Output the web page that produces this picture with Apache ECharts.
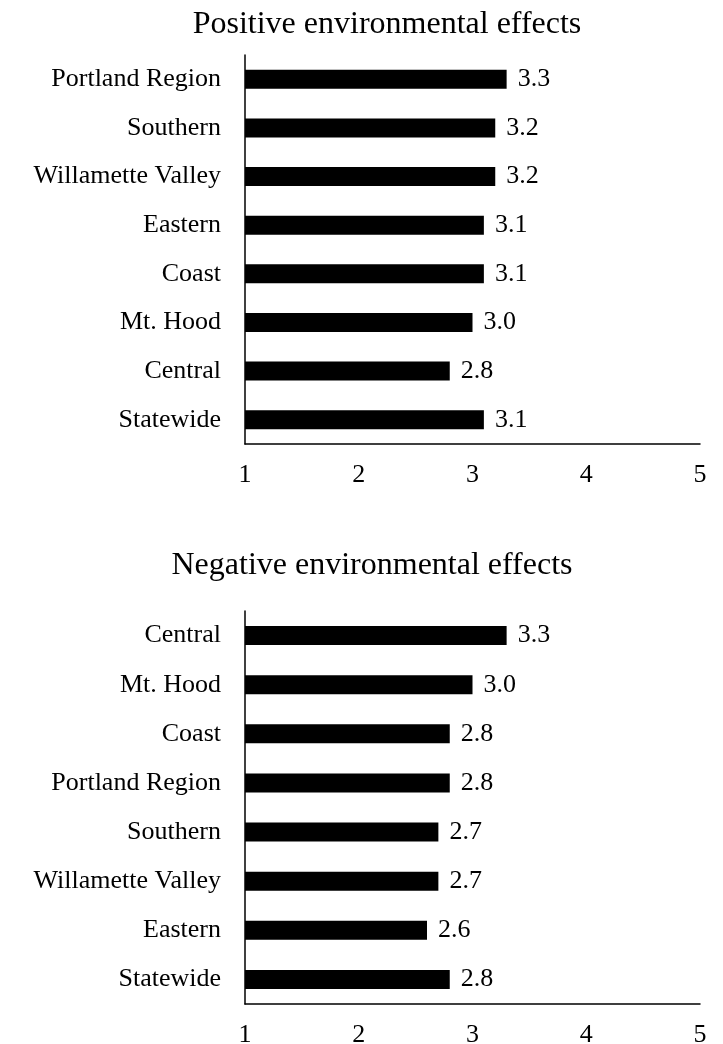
<!DOCTYPE html>
<html>
<head>
<meta charset="utf-8">
<style>
  html, body { margin: 0; padding: 0; background: #fff; }
  #chart { width: 723px; height: 1044px; }
</style>
<script src="https://cdn.jsdelivr.net/npm/echarts@6/dist/echarts.min.js"></script>
</head>
<body>
<div id="chart"></div>
<script>
// Mean ratings on a 1–5 scale, by region
const positiveTitle = 'Positive environmental effects';
const positiveRegions = ['Portland Region', 'Southern', 'Willamette Valley', 'Eastern', 'Coast', 'Mt. Hood', 'Central', 'Statewide'];
const positiveValues = [3.3, 3.2, 3.2, 3.1, 3.1, 3.0, 2.8, 3.1];

const negativeTitle = 'Negative environmental effects';
const negativeRegions = ['Central', 'Mt. Hood', 'Coast', 'Portland Region', 'Southern', 'Willamette Valley', 'Eastern', 'Statewide'];
const negativeValues = [3.3, 3.0, 2.8, 2.8, 2.7, 2.7, 2.6, 2.8];

const scaleTicks = [1, 2, 3, 4, 5];

const FONT = '"Liberation Serif", "Times New Roman", serif';
const INK = '#000';

function valueAxis(gridIndex) {
  return {
    type: 'value',
    gridIndex: gridIndex,
    min: scaleTicks[0],
    max: scaleTicks[scaleTicks.length - 1],
    interval: 1,
    axisLine: { show: true, lineStyle: { color: INK, width: 1.5 } },
    axisTick: { show: false },
    splitLine: { show: false },
    axisLabel: { color: INK, fontFamily: FONT, fontSize: 26, margin: 18 }
  };
}

function categoryAxis(gridIndex, regions) {
  return {
    type: 'category',
    gridIndex: gridIndex,
    inverse: true,
    data: regions,
    axisLine: { show: true, lineStyle: { color: INK, width: 1.5 } },
    axisTick: { show: false },
    axisLabel: { color: INK, fontFamily: FONT, fontSize: 26, margin: 24 }
  };
}

function barSeries(index, values) {
  return {
    type: 'bar',
    xAxisIndex: index,
    yAxisIndex: index,
    data: values,
    barWidth: 19,
    itemStyle: { color: INK },
    label: {
      show: true,
      position: 'right',
      distance: 11,
      color: INK,
      fontFamily: FONT,
      fontSize: 26,
      formatter: p => p.value.toFixed(1)
    },
    silent: true,
    animation: false
  };
}

const chart = echarts.init(document.getElementById('chart'), null, { renderer: 'canvas' });
chart.setOption({
  backgroundColor: '#fff',
  animation: false,
  title: [
    {
      text: positiveTitle,
      left: 382, top: 4, textAlign: 'center',
      textStyle: { color: INK, fontFamily: FONT, fontSize: 32, fontWeight: 'normal' }
    },
    {
      text: negativeTitle,
      left: 367, top: 545, textAlign: 'center',
      textStyle: { color: INK, fontFamily: FONT, fontSize: 32, fontWeight: 'normal' }
    }
  ],
  grid: [
    { left: 245, right: 23, top: 55, height: 389, outerBoundsMode: 'none', containLabel: false },
    { left: 245, right: 23, top: 611, height: 393, outerBoundsMode: 'none', containLabel: false }
  ],
  xAxis: [valueAxis(0), valueAxis(1)],
  yAxis: [categoryAxis(0, positiveRegions), categoryAxis(1, negativeRegions)],
  series: [barSeries(0, positiveValues), barSeries(1, negativeValues)]
});
</script>
</body>
</html>
